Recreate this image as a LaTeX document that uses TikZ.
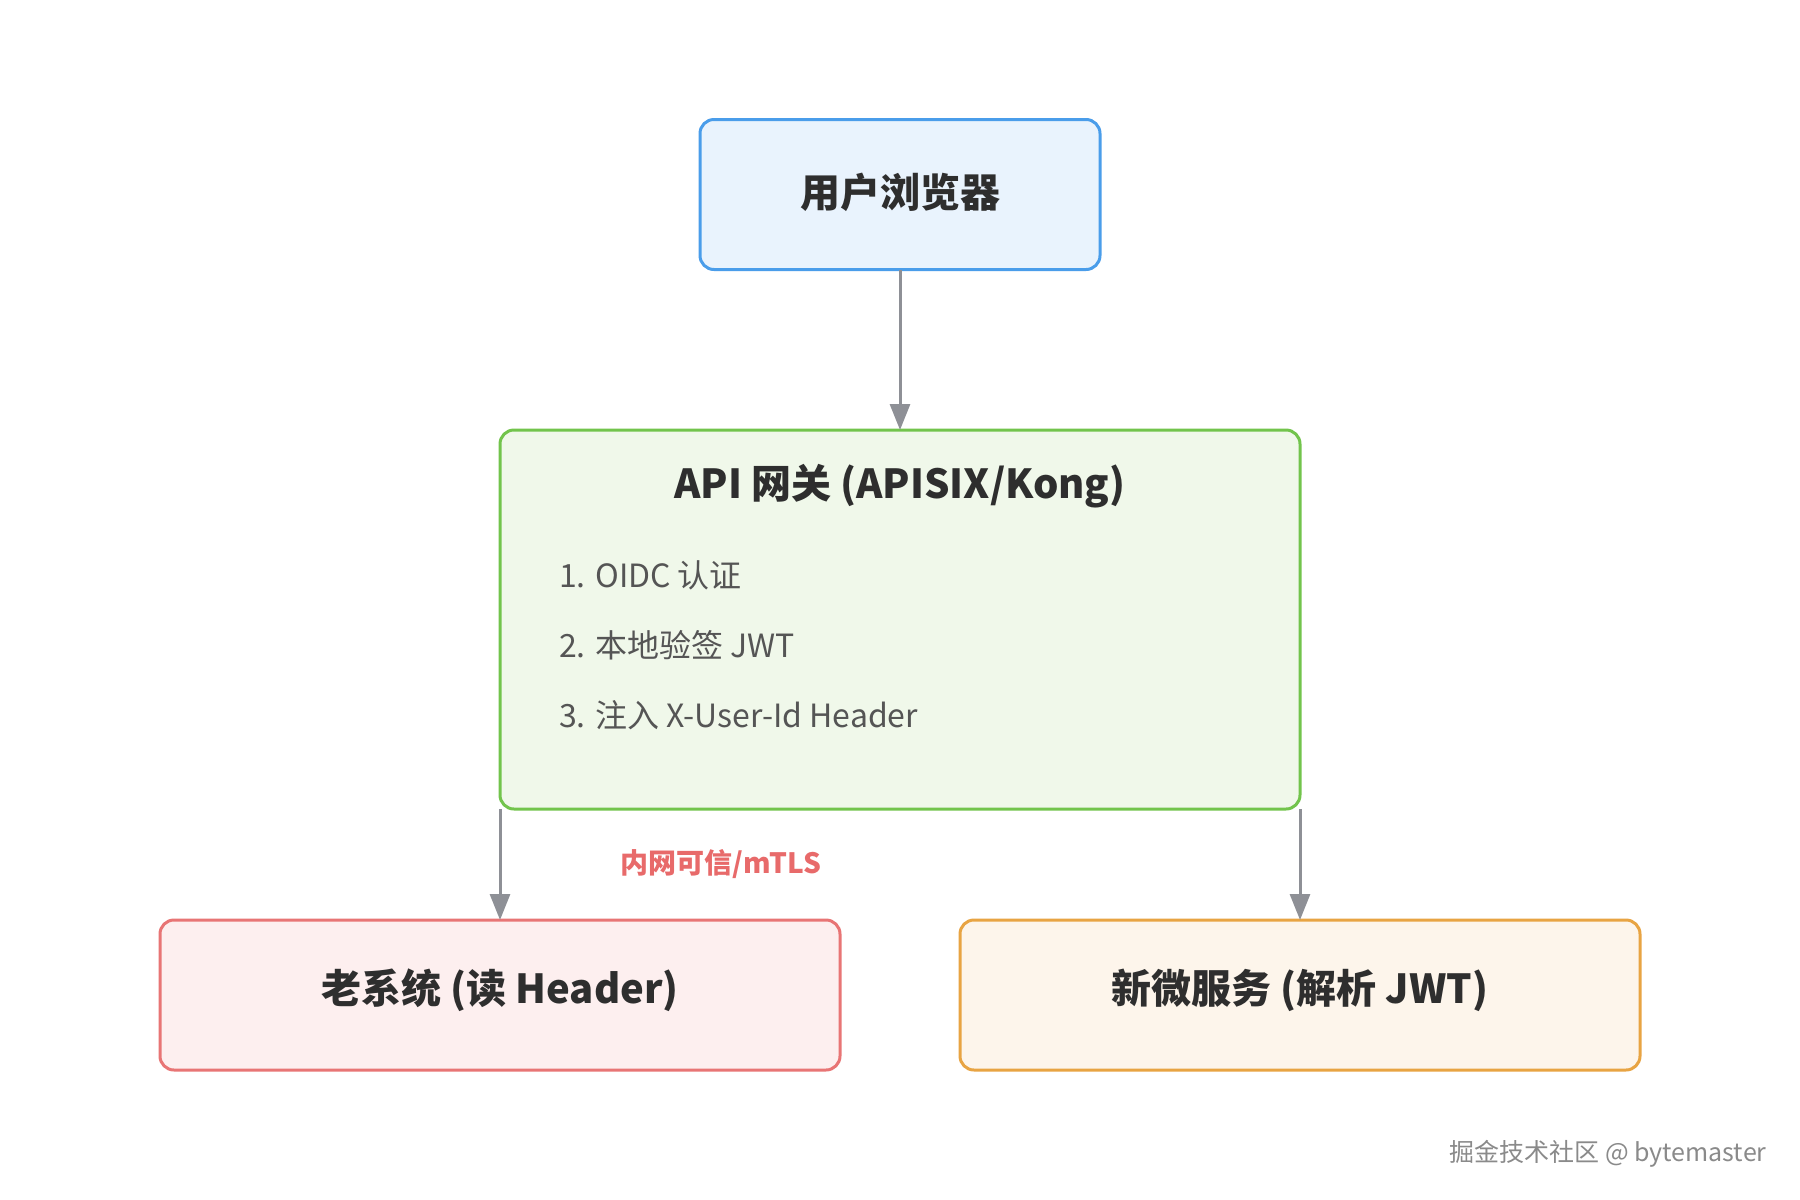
\documentclass[tikz,border=0pt]{standalone}
\usepackage{fontspec}
\setmainfont{Noto Sans CJK SC}
\usetikzlibrary{arrows.meta}
\definecolor{blueB}{HTML}{4A9DEA}
\definecolor{blueF}{HTML}{E9F3FD}
\definecolor{greenB}{HTML}{72C44C}
\definecolor{greenF}{HTML}{F0F8EA}
\definecolor{redB}{HTML}{E87575}
\definecolor{redF}{HTML}{FDEFEF}
\definecolor{orangeB}{HTML}{E8A443}
\definecolor{orangeF}{HTML}{FDF5EB}
\definecolor{arrowgray}{HTML}{8E9096}
\definecolor{textdark}{HTML}{2E2E2E}
\definecolor{itemgray}{HTML}{555555}
\definecolor{labelred}{HTML}{E86A6A}
\definecolor{markgray}{HTML}{8A8A8A}
\begin{document}
\begin{tikzpicture}[x=0.5pt,y=-0.5pt,
  box/.style={draw, rounded corners=7pt, line width=1.5pt, inner sep=0pt, outer sep=0pt},
  titletext/.style={font=\bfseries\fontsize{20}{24}\selectfont, text=textdark},
  itemtext/.style={font=\fontsize{16}{19}\selectfont, text=itemgray, anchor=west},
  conn/.style={draw=arrowgray, line width=1.5pt, -{Triangle[length=13pt,width=10pt]}}]
\useasboundingbox[fill=white] (0,0) rectangle (1800,1200);

\node[box, draw=blueB, fill=blueF, minimum width=200pt, minimum height=75pt] (browser) at (900,194.5) {};
\node[titletext] (browsert) at (900,192) {用户浏览器};

\node[box, draw=greenB, fill=greenF, minimum width=400pt, minimum height=189.5pt] (gw) at (900,619.5) {};
\node[titletext] (gwt) at (900,486) {API 网关 (APISIX/Kong)};
\node[itemtext] (i1) at (552,575) {1. OIDC 认证};
\node[itemtext] (i2) at (552,645) {2. 本地验签 JWT};
\node[itemtext] (i3) at (552,715) {3. 注入 X-User-Id Header};

\node[box, draw=redB, fill=redF, minimum width=340pt, minimum height=75pt] (old) at (500,995) {};
\node[titletext] (oldt) at (500,990) {老系统 (读 Header)};

\node[box, draw=orangeB, fill=orangeF, minimum width=340pt, minimum height=75pt] (new) at (1300,995) {};
\node[titletext] (newt) at (1300,990) {新微服务 (解析 JWT)};

\draw[conn] (browser.south) -- (gw.north);
\draw[conn] (gw.south west) -- (old.north);
\draw[conn] (gw.south east) -- (new.north);

\node[font=\bfseries\fontsize{14}{17}\selectfont, text=labelred] (lbl) at (721,864) {内网可信/mTLS};

\node[font=\fontsize{12.5}{15}\selectfont, text=markgray] (mark) at (1608,1154) {掘金技术社区 @ bytemaster};
\end{tikzpicture}
\end{document}
